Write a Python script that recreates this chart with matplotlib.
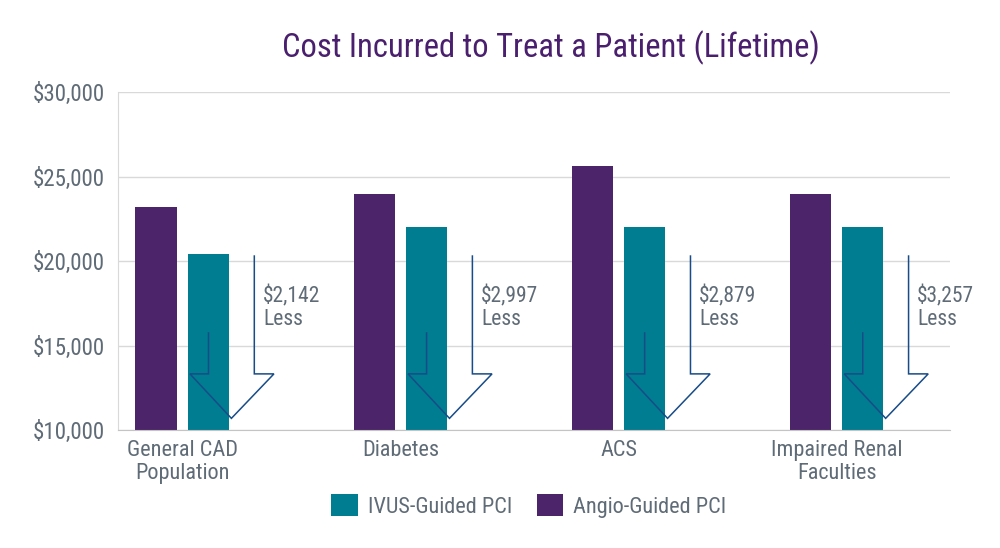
import matplotlib
matplotlib.use("Agg")
import matplotlib.pyplot as plt
import numpy as np

plt.rcParams['font.family'] = ['Roboto Condensed', 'Open Sans Condensed', 'DejaVu Sans']
plt.rcParams['font.stretch'] = 'condensed'

categories = ["General CAD\nPopulation", "Diabetes", "ACS", "Impaired Renal\nFaculties"]
angio = [23200, 23950, 25650, 23950]
ivus = [20400, 22000, 22000, 22000]
savings = ["$2,142", "$2,997", "$2,879", "$3,257"]
yticks = [10000, 15000, 20000, 25000, 30000]

purple = "#4B2469"
teal = "#007D90"
gray = "#5F6B76"
arrow_col = "#174C88"

fig = plt.figure(figsize=(10, 5.48), dpi=100)
ax = fig.add_axes([0.118, 0.215, 0.832, 0.617])

x = np.arange(len(categories))
w = 0.19
ax.bar(x - 0.12, angio, w, color=purple, label="Angio-Guided PCI", zorder=2)
ax.bar(x + 0.12, ivus, w, color=teal, label="IVUS-Guided PCI", zorder=2)

# outline arrows with the savings text
for i, s in enumerate(savings):
    xs = [i + 0.12, i + 0.12, i + 0.035, i + 0.225, i + 0.42, i + 0.33, i + 0.33]
    ys = [15750, 13330, 13330, 10700, 13330, 13330, 20300]
    ax.plot(xs, ys, color=arrow_col, lw=1.1, zorder=3, solid_joinstyle='miter')
    ax.text(i + 0.37, 17250, s + "\nLess", color=gray, fontsize=15.5,
            va='center', ha='left', linespacing=1.15, zorder=4)

ax.set_ylim(10000, 30000)
ax.set_xlim(-0.295, 3.52)
ax.set_yticks(yticks)
ax.set_yticklabels(["${:,}".format(v) for v in yticks])
ax.set_xticks(x)
ax.set_xticklabels(categories)
ax.tick_params(axis='y', length=0, pad=9.5, labelsize=16.5, labelcolor=gray)
ax.tick_params(axis='x', length=0, pad=7, labelsize=16, labelcolor=gray)
for t in ax.get_xticklabels():
    t.set_linespacing(1.15)
ax.grid(axis='y', color="#D9D9D9", lw=1, zorder=0)
for sp in ['top', 'right']:
    ax.spines[sp].set_visible(False)
ax.spines['left'].set_color("#D9D9D9")
ax.spines['bottom'].set_color("#C4C4C4")

fig.text(0.551, 0.912, "Cost Incurred to Treat a Patient (Lifetime)",
         ha='center', va='center', fontsize=23.5, color="#4A1F6E")

h, l = ax.get_legend_handles_labels()
fig.legend(h[::-1], l[::-1], loc='center', bbox_to_anchor=(0.529, 0.077), ncol=2,
           frameon=False, fontsize=16, labelcolor=gray, handlelength=1.2,
           handleheight=1.15, handletextpad=0.45, columnspacing=1.1)

fig.savefig("out.png", dpi=100)
